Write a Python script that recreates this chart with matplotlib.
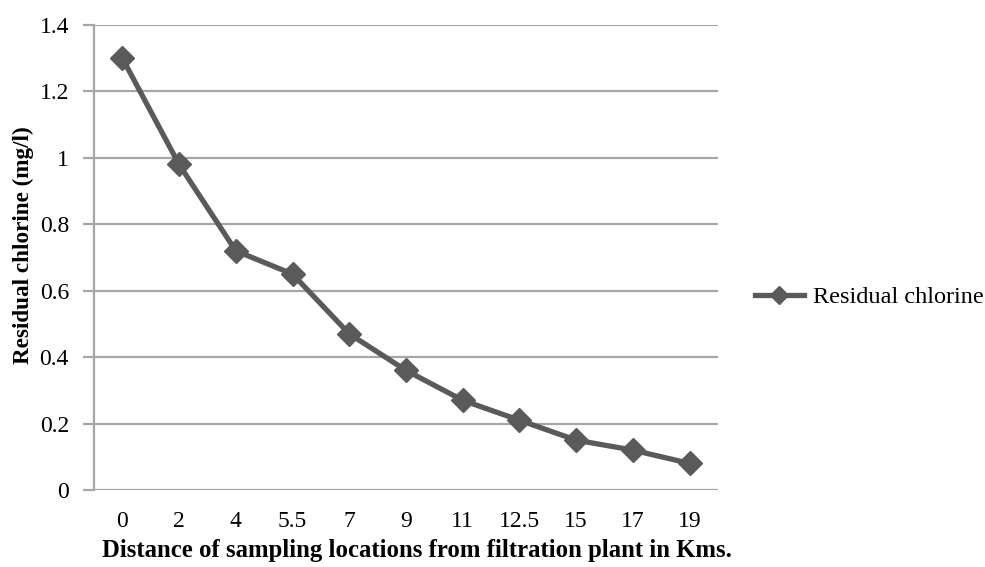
import matplotlib
matplotlib.use("Agg")
import matplotlib.pyplot as plt
from matplotlib.lines import Line2D

# 数据
distances = ["0", "2", "4", "5.5", "7", "9", "11", "12.5", "15", "17", "19"]
chlorine = [1.3, 0.98, 0.72, 0.65, 0.47, 0.36, 0.27, 0.21, 0.15, 0.12, 0.08]
y_ticks = [0, 0.2, 0.4, 0.6, 0.8, 1.0, 1.2, 1.4]
y_tick_labels = ["0", "0.2", "0.4", "0.6", "0.8", "1", "1.2", "1.4"]

plt.rcParams["font.family"] = ["Liberation Serif", "DejaVu Serif"]

line_color = "#5a5a5a"
grid_color = "#a6a6a6"

fig = plt.figure(figsize=(9.85, 5.67), dpi=100)
ax = fig.add_axes([0.0954, 0.1358, 0.6336, 0.8202])

x = list(range(len(distances)))
ax.plot(x, chlorine, color=line_color, linewidth=3.8, marker="D",
        markersize=12, markerfacecolor=line_color, markeredgecolor=line_color,
        label="Residual chlorine", zorder=3)

ax.set_xlim(-0.5, len(distances) - 0.5)
ax.set_ylim(0, 1.4)
ax.set_xticks(x)
ax.set_xticklabels(distances, fontsize=17)
ax.set_yticks(y_ticks)
ax.set_yticklabels(y_tick_labels, fontsize=17)

# 网格和坐标轴
ax.yaxis.grid(True, color=grid_color, linewidth=1.6)
ax.set_axisbelow(True)
for side in ["top", "right", "bottom"]:
    ax.spines[side].set_visible(False)
ax.spines["left"].set_color(grid_color)
ax.spines["left"].set_linewidth(1.6)
ax.tick_params(axis="y", length=8, width=1.6, color=grid_color, pad=10)
ax.tick_params(axis="x", length=0, pad=15)

ax.set_xlabel("Distance of sampling locations from filtration plant in Kms.",
              fontsize=17.8, fontweight="bold")
ax.set_ylabel("Residual chlorine (mg/l)", fontsize=16.7, fontweight="bold")
ax.xaxis.set_label_coords(0.518, -0.106)
ax.yaxis.set_label_coords(-0.096, 0.527)

handle = Line2D([], [], color=line_color, linewidth=3.8, marker="D",
                markersize=9, markerfacecolor=line_color, markeredgecolor=line_color)
fig.legend([handle], ["Residual chlorine"], loc="center left",
           bbox_to_anchor=(0.7665, 0.476), frameon=False, fontsize=17.5,
           handlelength=2.0, handletextpad=0.4, borderaxespad=0, borderpad=0)

fig.savefig("out.png", dpi=100)
